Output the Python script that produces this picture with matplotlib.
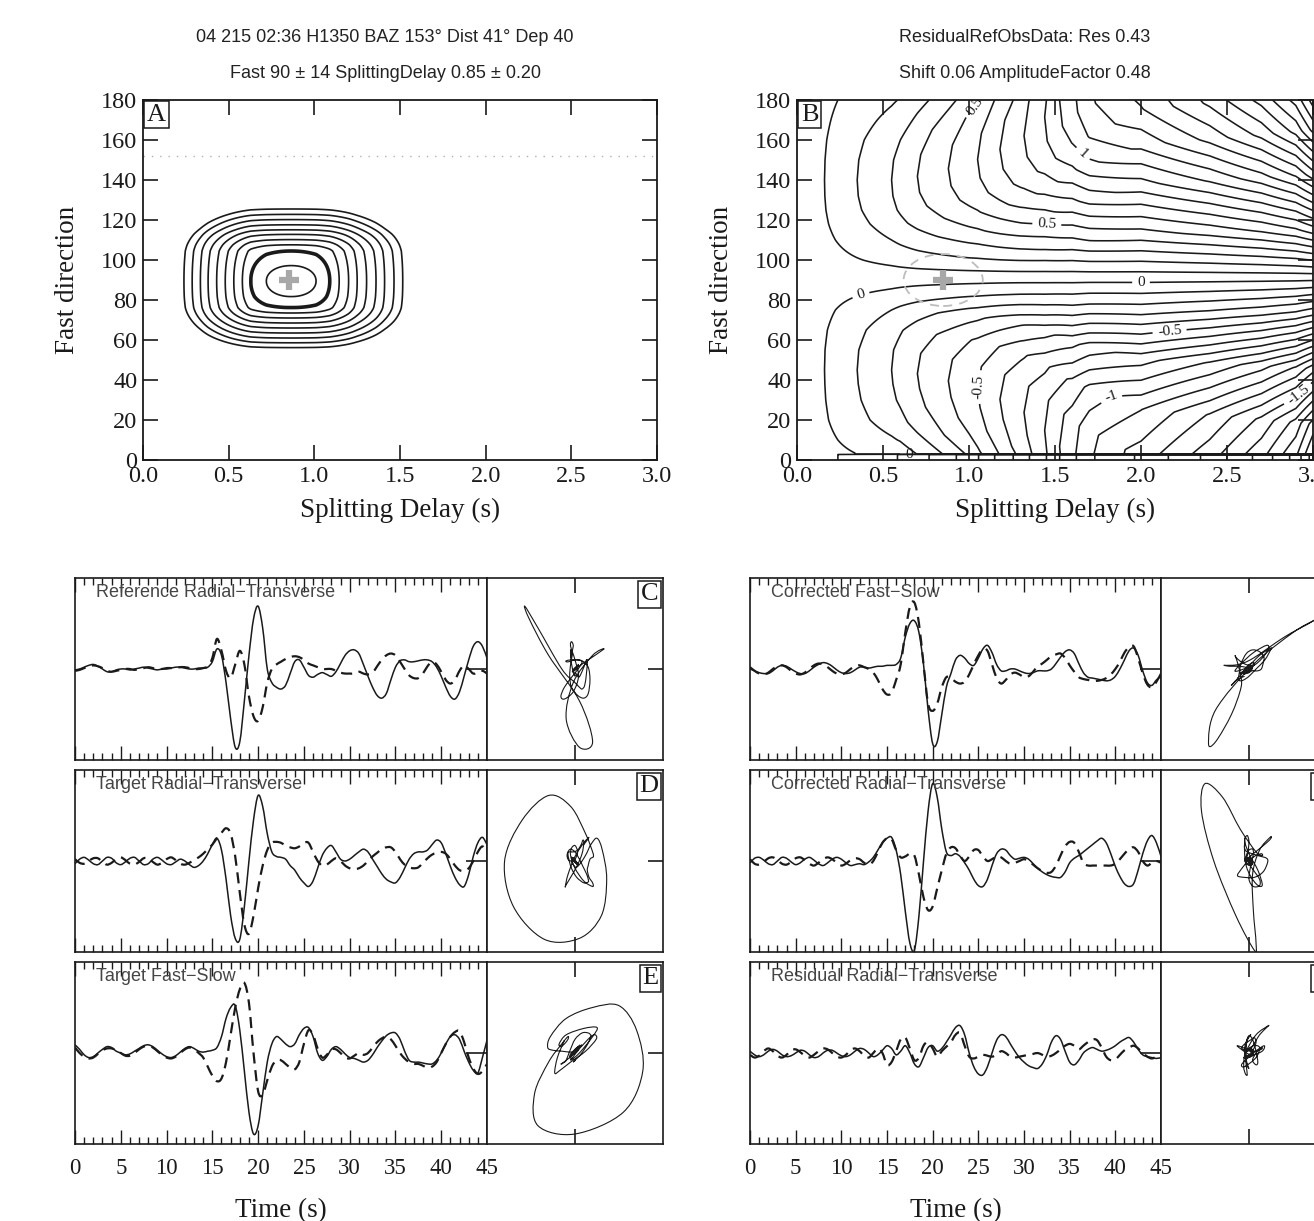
import numpy as np
import matplotlib
matplotlib.use("Agg")
import matplotlib.pyplot as plt
from matplotlib.patches import Ellipse, PathPatch
from matplotlib.path import Path

SERIF = ["Liberation Serif", "DejaVu Serif"]
SANS = ["Liberation Sans", "DejaVu Sans"]
plt.rcParams["font.family"] = SERIF
plt.rcParams["contour.negative_linestyle"] = "solid"
INK = "#1a1a1a"

# ---------------------------------------------------------------- header text
title_left = ["04 215 02:36 H1350 BAZ 153\u00b0 Dist 41\u00b0 Dep 40",
              "Fast 90 \u00b1 14 SplittingDelay 0.85 \u00b1 0.20"]
title_right = ["ResidualRefObsData: Res 0.43",
               "Shift 0.06 AmplitudeFactor 0.48"]

best_delay = 0.85
best_fast = 90
baz = 152
ellipse_delay = 0.23   # half widths of the dashed error ellipse in B
ellipse_fast = 13

# ---------------------------------------------------------------- panel A rings
# ring 0 is the innermost, ring 1 the thick one
ring_left = [0.72, 0.629, 0.58, 0.53, 0.48, 0.43, 0.38, 0.335, 0.287, 0.239]
ring_right = [1.01, 1.09, 1.145, 1.20, 1.25, 1.305, 1.36, 1.41, 1.465, 1.516]
ring_bottom = [81.7, 76.2, 73.5, 71.0, 68.5, 66.0, 63.5, 61.0, 58.6, 56.2]
ring_top = [97.2, 104.5, 107.6, 110.2, 112.8, 115.1, 117.6, 120.2, 122.8, 125.5]

# ---------------------------------------------------------------- panel B surface profiles
b_delay_nodes = [0.0, 0.16, 0.35, 0.55, 0.70, 0.88, 1.05, 1.18, 1.32, 1.44, 1.70, 2.00, 2.40, 2.70, 2.90, 3.00]
b_delay_gain = [0.0, 0.05, 0.15, 0.25, 0.35, 0.45, 0.55, 0.65, 0.75, 0.85, 1.15, 1.35, 1.60, 1.85, 2.10, 2.35]
b_stretch_nodes = [0.0, 0.6, 1.0, 1.3, 1.6, 2.0, 3.0]
b_stretch = [1.0, 1.0, 0.85, 0.70, 0.50, 0.40, 0.36]
b_null_fast = 91.5
b_fast_nodes = [-130, -60, -20, 3.5, 10, 20, 30, 38, 45, 55, 65, 75, 85, 91.5,
                100, 110, 118, 125, 132, 140, 150, 160, 170, 180]
b_fast_shape = [-0.60, -0.50, -0.42, -0.35, -0.55, -0.80, -0.93, -0.98, -1.0, -0.97, -0.85, -0.60, -0.22, 0.0,
                0.30, 0.60, 0.80, 0.92, 0.98, 1.0, 0.97, 0.88, 0.72, 0.55]
b_wrap_fast = 3.0
b_offset = 0.05
b_labels = [("0.5", 0.5, (1.05, 176)), ("1", 1.0, (1.65, 152)), ("0.5", 0.5, (1.45, 116)),
            ("0", 0.0, (2.0, 89)), ("-0.5", -0.5, (2.15, 79)), ("0", 0.0, (0.38, 80)),
            ("0", 0.0, (0.65, 7)), ("-0.5", -0.5, (0.8, 40)), ("-1", -1.0, (1.7, 52)),
            ("-1.5", -1.5, (2.85, 38))]

# ---------------------------------------------------------------- waveforms (0.5 s samples)
time = np.arange(0, 45.01, 0.5)

ref_radial = [
    -0.01, 0.00, 0.02, 0.04, 0.05, 0.03, 0.00, -0.03, -0.03, -0.01,
    0.00, 0.00, -0.01, 0.00, 0.01, 0.02, 0.01, 0.00, -0.01, 0.00,
    0.00, 0.01, 0.02, 0.02, 0.01, 0.00, 0.00, 0.01, 0.01, 0.02,
    0.08, 0.22, 0.15, -0.15, -0.55, -0.86, -0.80, -0.35, 0.15, 0.55,
    0.69, 0.45, 0.00, -0.15, -0.20, -0.22, -0.18, -0.05, 0.08, 0.10,
    0.02, -0.07, -0.09, -0.06, -0.04, -0.06, -0.08, -0.03, 0.06, 0.15,
    0.20, 0.21, 0.17, 0.05, -0.08, -0.20, -0.29, -0.32, -0.27, -0.12,
    0.02, 0.09, 0.10, 0.08, 0.08, 0.09, 0.10, 0.10, 0.08, 0.02,
    -0.08, -0.20, -0.30, -0.33, -0.25, -0.08, 0.10, 0.25, 0.30, 0.25,
    0.12]
ref_transverse = [
    -0.02, -0.01, 0.01, 0.03, 0.04, 0.03, 0.01, -0.02, -0.03, -0.02,
    -0.01, 0.00, 0.00, -0.01, 0.00, 0.01, 0.02, 0.01, 0.00, 0.00,
    0.01, 0.01, 0.01, 0.02, 0.02, 0.01, 0.00, 0.00, 0.01, 0.03,
    0.12, 0.33, 0.20, -0.02, -0.10, 0.05, 0.20, 0.05, -0.30, -0.52,
    -0.57, -0.42, -0.15, 0.00, 0.05, 0.08, 0.11, 0.13, 0.14, 0.13,
    0.10, 0.06, 0.04, 0.02, 0.00, 0.00, 0.00, -0.02, -0.04, -0.05,
    -0.05, -0.05, -0.03, -0.05, -0.06, -0.04, 0.03, 0.10, 0.15, 0.17,
    0.15, 0.08, 0.00, -0.07, -0.10, -0.10, -0.05, 0.03, 0.08, 0.05,
    -0.03, -0.12, -0.16, -0.12, -0.02, 0.04, 0.00, -0.05, -0.04, -0.02,
    -0.05]

target_radial = [
    -0.03, 0.02, 0.04, 0.01, -0.03, -0.04, 0.00, 0.04, 0.03, -0.02,
    -0.04, -0.01, 0.03, 0.04, 0.00, -0.04, -0.03, 0.02, 0.04, 0.01,
    -0.03, -0.04, -0.01, 0.02, 0.00, -0.04, -0.07, -0.05, 0.00, 0.08,
    0.18, 0.25, 0.12, -0.20, -0.60, -0.85, -0.86, -0.50, 0.00, 0.45,
    0.72, 0.60, 0.30, 0.10, 0.05, 0.04, 0.02, -0.05, -0.10, -0.18,
    -0.24, -0.28, -0.22, -0.08, 0.06, 0.14, 0.17, 0.10, 0.02, 0.00,
    0.02, 0.06, 0.10, 0.13, 0.10, 0.02, -0.06, -0.14, -0.20, -0.23,
    -0.24, -0.18, -0.08, 0.02, 0.08, 0.10, 0.10, 0.12, 0.18, 0.23,
    0.20, 0.08, -0.06, -0.18, -0.26, -0.28, -0.15, 0.05, 0.20, 0.26,
    0.18]
target_transverse = [
    0.02, -0.02, -0.03, 0.00, 0.03, 0.03, -0.01, -0.04, -0.02, 0.02,
    0.04, 0.01, -0.03, -0.04, -0.01, 0.03, 0.03, -0.01, -0.04, -0.02,
    0.02, 0.04, 0.01, -0.03, -0.04, -0.02, 0.01, 0.04, 0.08, 0.13,
    0.18, 0.25, 0.31, 0.36, 0.30, 0.05, -0.35, -0.70, -0.80, -0.60,
    -0.30, -0.05, 0.12, 0.20, 0.21, 0.20, 0.17, 0.15, 0.14, 0.16,
    0.20, 0.20, 0.10, 0.00, -0.05, -0.04, 0.00, 0.03, 0.00, -0.05,
    -0.08, -0.09, -0.08, -0.05, 0.00, 0.05, 0.09, 0.13, 0.15, 0.15,
    0.10, 0.02, -0.04, -0.07, -0.08, -0.07, -0.02, 0.03, 0.07, 0.09,
    0.10, 0.08, 0.02, -0.05, -0.10, -0.11, -0.08, 0.00, 0.10, 0.16,
    0.10]

target_fast = [
    0.09, 0.04, -0.02, -0.05, -0.04, 0.00, 0.04, 0.07, 0.06, 0.02,
    0.00, -0.02, -0.01, 0.02, 0.05, 0.08, 0.09, 0.07, 0.03, -0.01,
    -0.04, -0.05, -0.03, 0.01, 0.05, 0.07, 0.05, 0.02, 0.01, 0.02,
    0.03, 0.06, 0.18, 0.38, 0.50, 0.52, 0.25, -0.20, -0.65, -0.89,
    -0.80, -0.45, -0.10, 0.10, 0.18, 0.15, 0.10, 0.07, 0.10, 0.20,
    0.27, 0.28, 0.18, 0.00, -0.08, -0.04, 0.04, 0.07, 0.04, -0.01,
    -0.05, -0.06, -0.08, -0.10, -0.08, -0.02, 0.06, 0.13, 0.19, 0.22,
    0.22, 0.15, 0.02, -0.08, -0.10, -0.10, -0.11, -0.12, -0.12, -0.08,
    0.00, 0.10, 0.18, 0.20, 0.15, 0.02, -0.10, -0.19, -0.22, -0.05,
    0.14]
target_slow = [
    0.06, 0.00, -0.04, -0.06, -0.05, -0.01, 0.03, 0.05, 0.05, 0.03,
    0.00, -0.03, -0.03, 0.00, 0.04, 0.07, 0.08, 0.06, 0.02, -0.02,
    -0.05, -0.06, -0.04, 0.00, 0.04, 0.06, 0.04, 0.00, -0.05, -0.15,
    -0.25, -0.31, -0.28, -0.10, 0.20, 0.50, 0.70, 0.77, 0.55, 0.00,
    -0.42, -0.46, -0.30, -0.15, -0.08, -0.08, -0.12, -0.16, -0.18, -0.10,
    0.10, 0.25, 0.20, 0.05, -0.05, -0.02, 0.04, 0.04, 0.00, -0.05,
    -0.06, -0.03, 0.00, -0.02, 0.00, 0.06, 0.12, 0.16, 0.18, 0.15,
    0.08, 0.00, -0.06, -0.10, -0.12, -0.12, -0.14, -0.16, -0.15, -0.10,
    0.00, 0.10, 0.18, 0.23, 0.24, 0.12, -0.05, -0.17, -0.23, -0.20,
    -0.12]

corr_fast = [
    0.00, -0.02, -0.04, -0.05, -0.05, -0.02, 0.02, 0.04, 0.03, 0.00,
    -0.03, -0.05, -0.05, -0.02, 0.02, 0.05, 0.07, 0.06, 0.03, -0.01,
    -0.04, -0.05, -0.04, -0.01, 0.02, 0.02, 0.01, 0.02, 0.03, 0.03,
    0.04, 0.04, 0.05, 0.12, 0.35, 0.50, 0.53, 0.40, 0.05, -0.45,
    -0.82, -0.80, -0.50, -0.20, -0.05, 0.10, 0.15, 0.12, 0.06, 0.04,
    0.12, 0.22, 0.26, 0.18, 0.05, -0.02, -0.02, 0.00, 0.00, -0.02,
    -0.04, -0.05, -0.04, -0.02, -0.02, -0.02, 0.00, 0.06, 0.13, 0.19,
    0.21, 0.17, 0.06, -0.04, -0.09, -0.10, -0.11, -0.12, -0.13, -0.12,
    -0.08, 0.00, 0.10, 0.20, 0.23, 0.15, -0.02, -0.15, -0.18, -0.12,
    -0.08]
corr_slow = [
    0.02, -0.02, -0.05, -0.06, -0.04, 0.00, 0.03, 0.04, 0.02, -0.02,
    -0.05, -0.06, -0.04, 0.00, 0.04, 0.06, 0.05, 0.02, -0.02, -0.05,
    -0.06, -0.04, 0.00, 0.03, 0.04, 0.02, 0.00, -0.04, -0.12, -0.22,
    -0.28, -0.26, -0.12, 0.05, 0.40, 0.68, 0.73, 0.50, 0.05, -0.38,
    -0.46, -0.38, -0.20, -0.09, -0.10, -0.14, -0.16, -0.14, -0.06, 0.05,
    0.15, 0.22, 0.20, 0.05, -0.10, -0.16, -0.12, -0.06, -0.04, -0.06,
    -0.09, -0.08, -0.03, 0.03, 0.06, 0.10, 0.14, 0.16, 0.17, 0.12,
    0.04, -0.03, -0.09, -0.11, -0.12, -0.13, -0.13, -0.12, -0.10, -0.06,
    0.00, 0.08, 0.18, 0.24, 0.25, 0.12, -0.05, -0.17, -0.20, -0.14,
    -0.05]

corr_radial = [
    -0.02, 0.03, 0.04, 0.01, -0.03, -0.04, 0.00, 0.04, 0.03, -0.01,
    -0.04, -0.02, 0.02, 0.04, 0.01, -0.03, -0.05, -0.02, 0.02, 0.04,
    0.02, -0.02, -0.05, -0.04, -0.03, -0.04, -0.01, 0.04, 0.12, 0.20,
    0.25, 0.26, 0.12, -0.15, -0.55, -0.90, -0.98, -0.60, 0.00, 0.55,
    0.85, 0.70, 0.35, 0.10, 0.06, 0.08, 0.05, -0.02, -0.10, -0.20,
    -0.27, -0.28, -0.20, -0.05, 0.08, 0.13, 0.12, 0.06, 0.02, 0.03,
    0.04, 0.02, -0.03, -0.08, -0.12, -0.15, -0.17, -0.18, -0.18, -0.12,
    -0.02, 0.03, 0.06, 0.10, 0.14, 0.18, 0.22, 0.25, 0.20, 0.08,
    -0.06, -0.17, -0.25, -0.28, -0.25, -0.10, 0.08, 0.22, 0.28, 0.20,
    0.05]
corr_transverse = [
    0.02, -0.03, -0.04, -0.01, 0.03, 0.04, 0.01, -0.03, -0.04, -0.01,
    0.03, 0.04, 0.01, -0.03, -0.05, -0.02, 0.02, 0.04, 0.02, -0.02,
    -0.05, -0.03, 0.01, 0.03, 0.02, -0.02, -0.04, 0.00, 0.10, 0.20,
    0.25, 0.24, 0.12, 0.04, 0.05, 0.08, 0.06, -0.15, -0.40, -0.54,
    -0.50, -0.30, -0.10, 0.08, 0.15, 0.14, 0.06, 0.00, 0.05, 0.12,
    0.12, 0.05, 0.00, 0.02, 0.05, 0.04, 0.00, -0.03, -0.02, 0.00,
    0.02, 0.00, -0.04, -0.08, -0.11, -0.13, -0.12, -0.05, 0.06, 0.16,
    0.21, 0.20, 0.10, -0.02, -0.05, -0.05, -0.05, -0.05, -0.05, -0.05,
    -0.03, 0.02, 0.08, 0.13, 0.15, 0.10, 0.00, -0.05, -0.02, 0.00,
    -0.02]

resid_radial = [
    0.02, -0.02, -0.04, -0.02, 0.02, 0.04, 0.02, -0.02, -0.04, -0.03,
    0.00, 0.03, 0.02, -0.02, -0.05, -0.04, 0.00, 0.03, 0.03, 0.00,
    -0.03, -0.04, -0.02, 0.02, 0.05, 0.04, 0.00, -0.04, -0.02, 0.03,
    0.08, 0.05, -0.02, 0.02, 0.08, 0.00, -0.12, -0.15, -0.05, 0.06,
    0.08, 0.02, 0.05, 0.12, 0.20, 0.28, 0.30, 0.20, 0.00, -0.15,
    -0.23, -0.24, -0.15, 0.00, 0.14, 0.20, 0.18, 0.10, 0.02, -0.05,
    -0.10, -0.14, -0.16, -0.17, -0.12, -0.02, 0.12, 0.19, 0.15, 0.02,
    -0.10, -0.13, -0.08, 0.00, 0.04, 0.06, 0.04, 0.02, 0.03, 0.05,
    0.08, 0.12, 0.15, 0.17, 0.12, 0.04, -0.02, -0.04, -0.05, -0.06,
    -0.05]
resid_transverse = [
    -0.02, -0.05, -0.03, 0.02, 0.05, 0.02, -0.03, -0.05, -0.02, 0.03,
    0.04, 0.01, -0.03, -0.05, -0.02, 0.02, 0.05, 0.04, 0.00, -0.04,
    -0.05, -0.02, 0.03, 0.05, 0.02, -0.03, -0.05, 0.00, 0.05, 0.00,
    -0.13, -0.10, 0.02, 0.15, 0.17, 0.05, -0.08, -0.05, 0.08, 0.12,
    0.05, -0.04, 0.02, 0.07, 0.12, 0.20, 0.22, 0.08, -0.04, -0.06,
    -0.04, -0.02, -0.03, -0.04, -0.02, 0.02, 0.00, -0.04, -0.05, -0.04,
    -0.03, -0.02, -0.01, 0.00, -0.02, -0.04, -0.03, 0.00, 0.04, 0.08,
    0.10, 0.08, 0.04, 0.08, 0.12, 0.15, 0.14, 0.06, -0.04, -0.08,
    -0.07, -0.02, 0.03, 0.06, 0.08, 0.05, 0.00, -0.04, -0.06, -0.04,
    -0.02]

panels = [
    # column, row, label, letter, solid trace, dashed trace
    (0, 0, "Reference Radial\u2212Transverse", "C", ref_radial, ref_transverse),
    (0, 1, "Target Radial\u2212Transverse", "D", target_radial, target_transverse),
    (0, 2, "Target Fast\u2212Slow", "E", target_fast, target_slow),
    (1, 0, "Corrected Fast\u2212Slow", "F", corr_fast, corr_slow),
    (1, 1, "Corrected Radial\u2212Transverse", "G", corr_radial, corr_transverse),
    (1, 2, "Residual Radial\u2212Transverse", "H", resid_radial, resid_transverse),
]

# ---------------------------------------------------------------- figure
W, H = 1314, 1221
fig = plt.figure(figsize=(W / 100, H / 100), dpi=100)


def px_axes(x0, y0, x1, y1):
    return fig.add_axes([x0 / W, 1 - y1 / H, (x1 - x0) / W, (y1 - y0) / H])


def letter_box(ax, s, x, y, ha, va):
    ax.text(x, y, s, transform=ax.transAxes, ha=ha, va=va, fontsize=19,
            family=SERIF, color=INK, zorder=10,
            bbox=dict(boxstyle="square,pad=0.1", fc="white", ec=INK, lw=1.1))


def smooth_curve(ax, xs, ys, **kw):
    # draw the samples as one smooth stroke that passes through every sample
    pts = np.column_stack([xs, ys]).astype(float)
    ext = np.vstack([pts[0], pts, pts[-1]])
    verts, codes = [pts[0]], [Path.MOVETO]
    for i in range(len(pts) - 1):
        p0, p1, p2, p3 = ext[i], ext[i + 1], ext[i + 2], ext[i + 3]
        verts += [p1 + (p2 - p0) / 6, p2 - (p3 - p1) / 6, p2]
        codes += [Path.CURVE4] * 3
    ax.add_patch(PathPatch(Path(verts, codes), fill=False, **kw))


def style_grid_axes(ax):
    ax.set_xlim(0, 3)
    ax.set_ylim(0, 180)
    ax.set_xticks(np.arange(0, 3.01, 0.5))
    ax.set_yticks(np.arange(0, 181, 20))
    ax.xaxis.set_major_formatter(matplotlib.ticker.FormatStrFormatter("%.1f"))
    ax.tick_params(direction="in", top=True, right=True, length=11, width=1.2,
                   labelsize=17.5, pad=4, colors=INK)
    for sp in ax.spines.values():
        sp.set_linewidth(1.3)
        sp.set_color(INK)
    ax.set_xlabel("Splitting Delay (s)", fontsize=19.5, color=INK)
    ax.set_ylabel("Fast direction", fontsize=19.5, color=INK)
    ax.xaxis.set_label_coords(0.5, -0.105)
    ax.yaxis.set_label_coords(-0.122, 0.5)


for i, line in enumerate(title_left):
    fig.text(385 / W, 1 - (38 + 35 * i) / H, line, ha="center", va="center",
             family=SANS, fontsize=13, color="#222222")
for i, line in enumerate(title_right):
    fig.text(1025 / W, 1 - (38 + 35 * i) / H, line, ha="center", va="center",
             family=SANS, fontsize=13, color="#222222")

# ---- panel A
axA = px_axes(143, 100, 657, 460)
n = len(ring_left)
p = 2.1
cx = (ring_left[0] + ring_right[0]) / 2
cy = (ring_bottom[0] + ring_top[0]) / 2
x_nodes = [0.0] + ring_left[::-1] + [cx] + ring_right + [3.0]
x_index = [n + 5] + list(range(n, 0, -1)) + [0] + list(range(1, n + 1)) + [n + 30]
y_nodes = [0.0] + ring_bottom[::-1] + [cy] + ring_top + [180.0]
y_index = [n + 22] + list(range(n, 0, -1)) + [0] + list(range(1, n + 1)) + [n + 23]
gx = np.linspace(0, 3, 601)
gy = np.linspace(0, 180, 721)
ux = np.interp(gx, x_nodes, x_index)
uy = np.interp(gy, y_nodes, y_index)
misfit = ux[None, :] ** p + uy[:, None] ** p
levels_a = [(k + 1) ** p for k in range(n)]
widths_a = [2.6 if k == 1 else 1.2 for k in range(n)]
axA.contour(gx, gy, misfit, levels=levels_a, colors=INK, linewidths=widths_a)
axA.axhline(baz, color="#b0b0b0", lw=1.0, ls=(0, (1, 5)))
axA.plot(best_delay, best_fast, marker="+", ms=15, mew=4.5, color="#a8a8a8", zorder=5)
style_grid_axes(axA)
letter_box(axA, "A", 0.008, 0.99, "left", "top")

# ---- panel B
axB = px_axes(797, 100, 1313, 460)
bx = np.linspace(0, 3, 601)
by = np.linspace(0, 180, 721)
gain = np.interp(bx, b_delay_nodes, b_delay_gain)
stretch = np.interp(bx, b_stretch_nodes, b_stretch)
phi_eff = b_null_fast + (by[:, None] - b_null_fast) * stretch[None, :]
surface = np.interp(phi_eff, b_fast_nodes, b_fast_shape) * gain[None, :] + b_offset
surface[by < b_wrap_fast] = surface[-1]
levels_b = np.round(np.arange(-26, 27) * 0.1, 1)
label_values = sorted(set(v for _, v, _ in b_labels))
plain = [lv for lv in levels_b if not np.any(np.isclose(lv, label_values))]
axB.contour(bx, by, surface, levels=plain, colors=INK, linewidths=1.15)
for value in label_values:
    spots = [pos for _, v, pos in b_labels if v == value]
    text = [t for t, v, _ in b_labels if v == value][0]
    cs1 = axB.contour(bx, by, surface, levels=[value], colors=INK, linewidths=1.15)
    axB.clabel(cs1, manual=spots, inline=True, fontsize=11, fmt={value: text},
               colors=INK)
axB.add_patch(Ellipse((best_delay, best_fast), 2 * ellipse_delay, 2 * ellipse_fast,
                      fill=False, ec="#bdbdbd", lw=1.3, ls=(0, (5, 4)), zorder=6))
axB.plot(best_delay, best_fast, marker="+", ms=15, mew=4.5, color="#a8a8a8", zorder=7)
style_grid_axes(axB)
letter_box(axB, "B", 0.008, 0.99, "left", "top")

# ---- waveform + particle motion panels
rows = [(578, 760), (770, 952), (962, 1144)]
cols = [(75, 487, 663), (750, 1161, 1337)]

for c, r, label, letter, solid, dashed in panels:
    x0, xm, x1 = cols[c]
    y0, y1 = rows[r]
    axw = px_axes(x0, y0, xm, y1)
    axp = px_axes(xm, y0, x1, y1)

    smooth_curve(axw, time, solid, ec=INK, lw=1.1)
    smooth_curve(axw, time, dashed, ec=INK, lw=1.6, ls=(0, (5, 3)))
    axw.set_xlim(0, 45)
    axw.set_ylim(-1, 1)
    axw.set_xticks(np.arange(0, 46, 5))
    axw.set_xticks(np.arange(0, 46, 1), minor=True)
    axw.set_yticks([0])
    axw.tick_params(axis="x", which="both", direction="in", top=True, bottom=True,
                    width=1.0, colors=INK, labelsize=16.5, pad=10,
                    labelbottom=(r == 2))
    axw.tick_params(axis="x", which="major", length=10)
    axw.tick_params(axis="x", which="minor", length=5)
    axw.tick_params(axis="y", direction="in", left=False, right=True, length=15,
                    width=1.2, labelleft=False, colors=INK)
    axw.text(0.05, 0.965, label, transform=axw.transAxes, ha="left", va="top",
             family=SANS, fontsize=13, color="#454545")
    if r == 2:
        axw.set_xlabel("Time (s)", fontsize=19.5, color=INK, labelpad=14)

    smooth_curve(axp, dashed, solid, ec=INK, lw=0.8)
    axp.set_xlim(-1, 1)
    axp.set_ylim(-1, 1)
    axp.set_xticks([0])
    axp.set_yticks([0])
    axp.tick_params(direction="in", top=True, bottom=True, left=False, right=True,
                    length=11, width=1.2, labelbottom=False, labelleft=False, colors=INK)
    letter_box(axp, letter, 0.975, 0.97, "right", "top")

    for ax in (axw, axp):
        for sp in ax.spines.values():
            sp.set_linewidth(1.2)
            sp.set_color(INK)

fig.savefig("out.png", dpi=100)
